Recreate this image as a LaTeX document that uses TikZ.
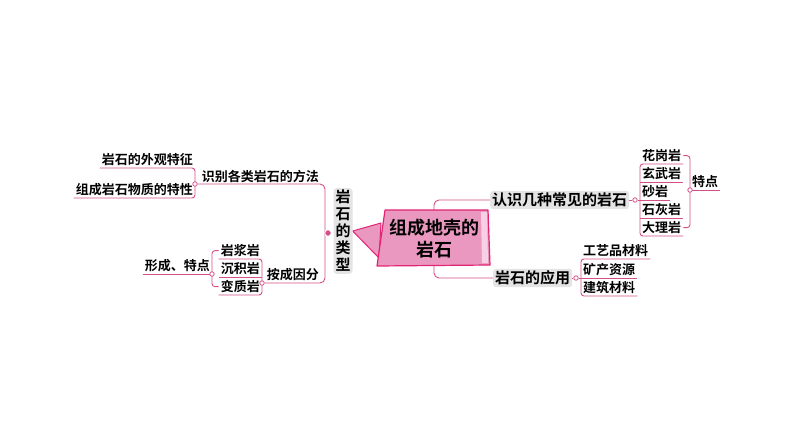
\documentclass[tikz,border=0pt]{standalone}
\usepackage{fontspec}
\setmainfont{Noto Sans CJK SC}[BoldFont={Noto Sans CJK SC Bold}]
\usepackage{tikz}
\usetikzlibrary{positioning,backgrounds}
\usepackage{xcolor}
\definecolor{mmpink}{RGB}{212,80,136}
\definecolor{mmroot}{RGB}{234,152,192}
\definecolor{mmedge}{RGB}{226,36,116}
\definecolor{mmglow}{RGB}{228,228,228}
\tikzstyle{link} = [line width=0.9pt, color=mmpink, rounded corners=3pt]
\tikzstyle{leaf} = [inner sep=2pt, font=\fontsize{13}{15}\selectfont\bfseries]
\tikzstyle{topic} = [inner sep=2pt, fill=mmglow, rounded corners=3pt, font=\fontsize{15}{17}\selectfont\bfseries]
\tikzstyle{knob} = [circle, draw=mmpink, fill=white, line width=0.8pt, inner sep=0pt, minimum size=4.5pt]
\tikzstyle{mainknob} = [circle, draw=white, fill=mmpink, line width=0.8pt, inner sep=0pt, minimum size=6.5pt]

\begin{document}
\begin{tikzpicture}[x=1pt, y=-1pt]
\useasboundingbox (0,0) rectangle (794,447);

% Central topic
\node[font=\fontsize{18}{22}\selectfont\bfseries, align=center] (root) at (434,239) {组成地壳的\\岩石};

% Left side
\node[topic, align=center] (lx) at (343,231) {岩\\石\\的\\类\\型};
\coordinate (trunk) at (325,233);
\node[mainknob] (k0) at (328,233) {};

\node[leaf, anchor=south east] (sb) at (321,185) {识别各类岩石的方法};
\node[leaf, anchor=south east] (wg) at (195,168) {岩石的外观特征};
\node[leaf, anchor=south east] (zc) at (195,198) {组成岩石物质的特性};
\node[knob] (k1) at (195,184) {};

\node[leaf, anchor=south east] (ay) at (321,283) {按成因分};
\node[leaf, anchor=south east] (yj) at (262,259) {岩浆岩};
\node[leaf, anchor=south east] (cj) at (262,277) {沉积岩};
\node[leaf, anchor=south east] (bz) at (262,295) {变质岩};
\node[knob] (k2) at (262,283) {};
\coordinate (s2) at (212,274);
\node[leaf, anchor=south east] (xt) at (212,274) {形成、特点};
\node[knob] (k3) at (212,274) {};

% Right side
\node[topic, anchor=west] (rzs) at (490,200) {认识几种常见的岩石};
\node[knob] (k4) at (635,200) {};
\node[leaf, anchor=south west] (hgy) at (640,164) {花岗岩};
\node[leaf, anchor=south west] (xwy) at (640,182) {玄武岩};
\node[leaf, anchor=south west] (sy) at (640,200) {砂岩};
\node[leaf, anchor=south west] (shy) at (640,218) {石灰岩};
\node[leaf, anchor=south west] (dly) at (640,236) {大理岩};
\coordinate (s1) at (690,190);
\node[leaf, anchor=south west] (td) at (690,190) {特点};
\node[knob] (k5) at (690,190) {};

\node[topic, anchor=west] (yy) at (493,278) {岩石的应用};
\node[knob] (k6) at (576,278) {};
\node[leaf, anchor=south west] (gy) at (581,259) {工艺品材料};
\node[leaf, anchor=south west] (kc) at (581,278) {矿产资源};
\node[leaf, anchor=south west] (jz) at (581,296) {建筑材料};

\begin{scope}[on background layer]
% connectors
\draw[link, rounded corners=5pt] (rzs.west) -| (root.center) |- (yy.west);
\draw[link, rounded corners=5pt] (k1) -| (trunk) |- (k2);
\draw[link] (wg.south west) -- (wg.south east) -- (zc.south east) -- (zc.south west);
\draw[link] (yj.south west) -- (yj.south east) -- (bz.south east) -- (bz.south west);
\draw[link] (cj.south west) -- (cj.south east);
\draw[link] (yj.west) -| (s2) |- (bz.west);
\draw[link] (xt.south west) -- (xt.south east);
\draw[link] (rzs.east) -- (k4) -- (sy.south west);
\draw[link] (hgy.south east) -- (hgy.south west) -- (dly.south west) -- (dly.south east);
\draw[link] (xwy.south west) -- (xwy.south east);
\draw[link] (sy.south west) -- (sy.south east);
\draw[link] (shy.south west) -- (shy.south east);
\draw[link] (hgy.east) -| (s1) |- (dly.east);
\draw[link] (td.south west) -- (td.south east);
\draw[link] (yy.east) -- (k6) -- (kc.south west);
\draw[link] (gy.south east) -- (gy.south west) -- (jz.south west) -- (jz.south east);
\draw[link] (kc.south west) -- (kc.south east);
% central shape
\filldraw[fill=mmroot, draw=mmedge, line width=1pt, line join=round] (lx.east) -- (381,223) -- (379,258) -- cycle;
\filldraw[fill=mmroot, draw=mmedge, line width=1.2pt, line join=round] (385,210) -- (488,210) -- (490,265) -- (377,266) -- cycle;
\fill[white!55!mmroot] (481,212) -- (487,212) -- (488,263) -- (482,263) -- cycle;
\end{scope}
\end{tikzpicture}
\end{document}
